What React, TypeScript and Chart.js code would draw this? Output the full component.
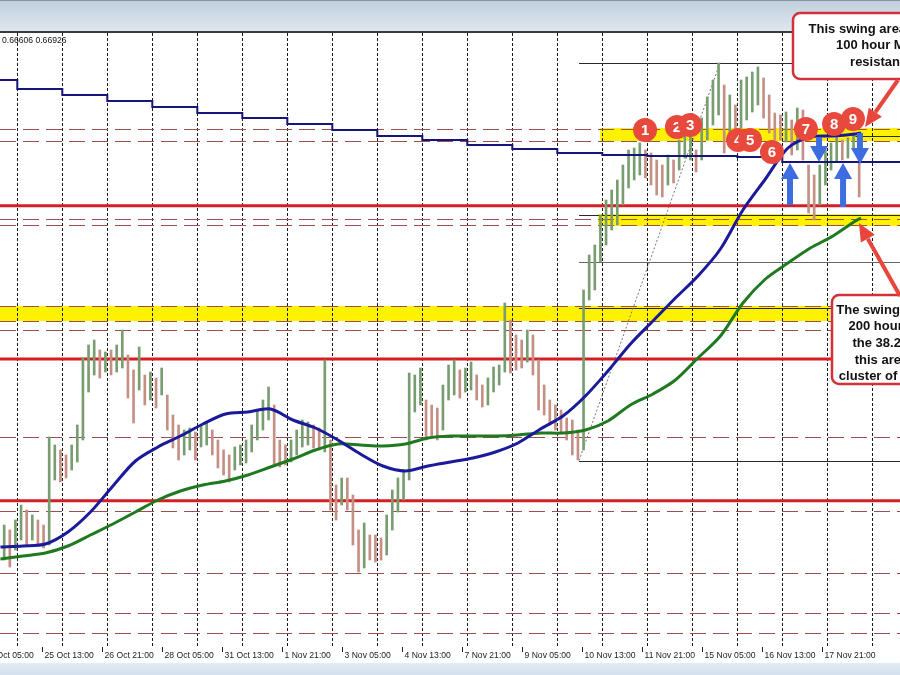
import React, { useEffect, useRef } from 'react';
import { Chart, registerables } from 'chart.js';
Chart.register(...registerables);

// ---- time axis (hour index: 0 = 24 Oct 05:00) ----
const xMinHour = 9.77;
const xMaxHour = 489.77;
const labelHours = [0, 32, 64, 96, 128, 160, 192, 224, 256, 288, 320, 352, 384, 416, 448];
const labelTexts = ['24 Oct 05:00', '25 Oct 13:00', '26 Oct 21:00', '28 Oct 05:00', '31 Oct 13:00', '1 Nov 21:00', '3 Nov 05:00', '4 Nov 13:00', '7 Nov 21:00', '9 Nov 05:00', '10 Nov 13:00', '11 Nov 21:00', '15 Nov 05:00', '16 Nov 13:00', '17 Nov 21:00'];
const dayStartHours = [19, 43, 67, 91, 115, 139, 163, 187, 211, 235, 259, 283, 307, 331, 355, 379, 403, 427, 451, 475];

// ---- price axis ----
const priceMin = 0.6216;
const priceMax = 0.6833;

// ---- price bars (3-hour bars, first at hour 12) ----
const barStartHour = 12;
const barStepHours = 3;
const barHigh = [
  0.6341, 0.6336, 0.6346, 0.6361, 0.6356, 0.6351, 0.6346, 0.6341, 0.6429, 0.6421,
  0.6416, 0.6411, 0.6421, 0.6441, 0.6508, 0.6521, 0.6526, 0.6516, 0.6514, 0.6516,
  0.6521, 0.6536, 0.6511, 0.6496, 0.6519, 0.6491, 0.6494, 0.6488, 0.6498, 0.6471,
  0.6451, 0.6441, 0.6436, 0.6438, 0.6434, 0.6441, 0.6443, 0.6436, 0.6426, 0.6416,
  0.6411, 0.6419, 0.6421, 0.6426, 0.6441, 0.6456, 0.6466, 0.6479, 0.6461, 0.6426,
  0.6421, 0.6426, 0.6436, 0.6446, 0.6444, 0.6441, 0.6438, 0.6506, 0.6426, 0.6381,
  0.6388, 0.6388, 0.6371, 0.6336, 0.6343, 0.6331, 0.6331, 0.6328, 0.6351, 0.6376,
  0.6388, 0.6396, 0.6493, 0.6491, 0.6498, 0.6466, 0.6461, 0.6458, 0.6481, 0.6501,
  0.6506, 0.6496, 0.6498, 0.6504, 0.6491, 0.6481, 0.6488, 0.6499, 0.6501, 0.6563,
  0.6546, 0.6531, 0.6526, 0.6536, 0.6531, 0.6506, 0.6481, 0.6466, 0.6461, 0.6456,
  0.6448, 0.6446, 0.6436, 0.6576, 0.6611, 0.6621, 0.6651, 0.6666, 0.6676, 0.6686,
  0.6701, 0.6716, 0.6718, 0.6723, 0.6716, 0.6713, 0.6706, 0.6701, 0.6711, 0.6706,
  0.6726, 0.6736, 0.6738, 0.6716, 0.6748, 0.6769, 0.6786, 0.6803, 0.6781, 0.6771,
  0.6761, 0.6786, 0.6789, 0.6794, 0.6799, 0.6788, 0.6771, 0.6753, 0.6751, 0.6754,
  0.6746, 0.6758, 0.6756, 0.6701, 0.6691, 0.6701, 0.6716, 0.6723, 0.6731, 0.6726,
  0.6728, 0.6733, 0.6726,
];
const barLow = [
  0.6306, 0.6299, 0.6316, 0.6326, 0.6321, 0.6326, 0.6321, 0.6318, 0.6321, 0.6386,
  0.6384, 0.6388, 0.6396, 0.6404, 0.6426, 0.6474, 0.6491, 0.6488, 0.6494, 0.6491,
  0.6494, 0.6498, 0.6468, 0.6443, 0.6476, 0.6461, 0.6466, 0.6458, 0.6471, 0.6436,
  0.6418, 0.6406, 0.6411, 0.6416, 0.6406, 0.6419, 0.6421, 0.6411, 0.6398, 0.6391,
  0.6384, 0.6396, 0.6401, 0.6403, 0.6414, 0.6426, 0.6436, 0.6446, 0.6401, 0.6399,
  0.6401, 0.6404, 0.6411, 0.6419, 0.6421, 0.6418, 0.6416, 0.6414, 0.6356, 0.6346,
  0.6361, 0.6356, 0.6321, 0.6294, 0.6298, 0.6306, 0.6304, 0.6306, 0.6311, 0.6336,
  0.6354, 0.6366, 0.6386, 0.6454, 0.6461, 0.6426, 0.6428, 0.6426, 0.6436, 0.6466,
  0.6471, 0.6468, 0.6474, 0.6476, 0.6466, 0.6459, 0.6461, 0.6474, 0.6481, 0.6494,
  0.6493, 0.6496, 0.6498, 0.6504, 0.6491, 0.6456, 0.6451, 0.6441, 0.6436, 0.6433,
  0.6426, 0.6411, 0.6406, 0.6416, 0.6566, 0.6576, 0.6604, 0.6621, 0.6636, 0.6641,
  0.6661, 0.6678, 0.6686, 0.6691, 0.6688, 0.6681, 0.6671, 0.6669, 0.6681, 0.6683,
  0.6696, 0.6708, 0.6706, 0.6694, 0.6706, 0.6726, 0.6741, 0.6751, 0.6713, 0.6726,
  0.6718, 0.6738, 0.6746, 0.6754, 0.6761, 0.6748, 0.6733, 0.6726, 0.6726, 0.6724,
  0.6711, 0.6716, 0.6706, 0.6653, 0.6646, 0.6661, 0.6681, 0.6696, 0.6704, 0.6706,
  0.6708, 0.6716, 0.6669,
];

// ---- moving averages ----
const maHours = [10, 22, 34, 46, 58, 70, 82, 94, 106, 118, 130, 142, 154, 166, 178, 190, 202, 214, 226, 238, 250, 262, 274, 286, 298, 310, 322, 334, 346, 358, 370, 382, 394, 406, 418, 430, 442, 454, 466, 469];
const ma100 = [0.6319, 0.6320, 0.6322, 0.6334, 0.6354, 0.6380, 0.6405, 0.6419, 0.6430, 0.6442, 0.6452, 0.6454, 0.6457, 0.6446, 0.6438, 0.6426, 0.6412, 0.6400, 0.6395, 0.6400, 0.6404, 0.6408, 0.6414, 0.6423, 0.6437, 0.6450, 0.6470, 0.6495, 0.6522, 0.6545, 0.6568, 0.6590, 0.6617, 0.6656, 0.6687, 0.6718, 0.6729, 0.6730, 0.6732, 0.6733];
const ma200 = [0.6307, 0.6310, 0.6313, 0.6320, 0.6331, 0.6342, 0.6354, 0.6366, 0.6375, 0.6381, 0.6385, 0.6391, 0.6399, 0.6407, 0.6416, 0.6422, 0.6421, 0.6420, 0.6422, 0.6428, 0.6430, 0.6430, 0.6430, 0.6431, 0.6433, 0.6433, 0.6436, 0.6445, 0.6461, 0.6472, 0.6486, 0.6508, 0.6530, 0.6563, 0.6587, 0.6603, 0.6618, 0.6630, 0.6645, 0.6648];
const dailyMaHours = [9, 19, 43, 67, 91, 115, 139, 163, 187, 211, 235, 259, 283, 307, 331, 355, 379, 403, 427, 451, 475, 490];
const dailyMa = [0.6786, 0.6777, 0.6771, 0.6765, 0.6759, 0.6753, 0.6748, 0.6742, 0.6736, 0.6730, 0.6726, 0.6721, 0.6717, 0.6713, 0.6711, 0.6710, 0.6710, 0.6709, 0.6704, 0.6704, 0.6704, 0.6704];

// ---- horizontal levels ----
const dashedLevels = [0.67375, 0.6725, 0.6647, 0.66415, 0.6560, 0.6545, 0.6536, 0.6429, 0.63553, 0.62935, 0.62527, 0.62333];
const redLevels = [0.66603, 0.6507, 0.63653];
const bandFromHour = [329.8, 9, 328.7];
const bandToHour = [490, 452.4, 490];
const bandHigh = [0.6738, 0.6560, 0.6652];
const bandLow = [0.6725, 0.6545, 0.6640];
const fibStartHour = 318.6;
const fibLevels = [0.68033, 0.66505, 0.6604, 0.6558, 0.64055];
const fibColors = ['#2a2a2a', '#2a2a2a', '#666666', '#2a2a2a', '#2a2a2a'];
const fibDiagHours = [318.6, 393.8];
const fibDiagPrices = [0.64055, 0.68033];
const extraLineHours = [466, 490];
const extraLinePrice = 0.6730;

// ---- annotations ----
const circleLabels = ['1', '2', '3', '4', '5', '6', '7', '8', '9'];
const circleHours = [353.8, 370.8, 377.8, 403.4, 409.8, 421.5, 439.6, 454.6, 464.7];
const circlePrices = [0.6736, 0.6739, 0.6741, 0.6726, 0.6726, 0.6714, 0.6737, 0.6742, 0.6747];
const arrowHours = [431.1, 459.4, 446.6, 468.4];
const arrowTail = [0.6661, 0.6659, 0.6729, 0.6733];
const arrowHead = [0.6703, 0.6703, 0.6704, 0.6702];
const topNoteLines = ['This swing area and the', '100 hour MA is', 'resistance'];
const bottomNoteLines = ['The swing low and', '200 hour MA &', 'the 38.2% are', 'this area is a', 'cluster of support'];

const upColor = '#789e70';
const downColor = '#c68f84';

function roundRectPath(ctx: CanvasRenderingContext2D, x: number, y: number, w: number, h: number, r: number) {
  ctx.beginPath();
  ctx.moveTo(x + r, y);
  ctx.lineTo(x + w - r, y);
  ctx.arcTo(x + w, y, x + w, y + r, r);
  ctx.lineTo(x + w, y + h - r);
  ctx.arcTo(x + w, y + h, x + w - r, y + h, r);
  ctx.lineTo(x + r, y + h);
  ctx.arcTo(x, y + h, x, y + h - r, r);
  ctx.lineTo(x, y + r);
  ctx.arcTo(x, y, x + r, y, r);
  ctx.closePath();
}

const overlay = {
  id: 'overlay',
  beforeDraw(chart: any) {
    const { ctx, width, height } = chart;
    const xs = chart.scales.x;
    ctx.save();
    ctx.fillStyle = '#ffffff';
    ctx.fillRect(0, 0, width, height);
    const g = ctx.createLinearGradient(0, 0, 0, 31);
    g.addColorStop(0, '#c0cedc');
    g.addColorStop(1, '#dfe7ef');
    ctx.fillStyle = g;
    ctx.fillRect(0, 0, width, 31);
    ctx.fillStyle = '#8794a2';
    ctx.fillRect(0, 0, width, 1);
    ctx.fillStyle = '#3a3a3a';
    ctx.fillRect(0, 31, width, 2);
    const gb = ctx.createLinearGradient(0, 663, 0, 675);
    gb.addColorStop(0, '#e4ecf5');
    gb.addColorStop(1, '#d3dfec');
    ctx.fillStyle = gb;
    ctx.fillRect(0, 663, width, 12);
    // x labels
    ctx.font = '8.6px "Liberation Sans", Arial, sans-serif';
    ctx.fillStyle = '#222';
    ctx.textBaseline = 'middle';
    ctx.textAlign = 'left';
    ctx.strokeStyle = '#222';
    ctx.lineWidth = 1;
    labelHours.forEach((h, k) => {
      const x = Math.round(xs.getPixelForValue(h)) + 0.5;
      ctx.beginPath();
      ctx.moveTo(x, 647);
      ctx.lineTo(x, 652);
      ctx.stroke();
      ctx.fillText(labelTexts[k], x + 2, 656);
    });
    ctx.restore();
  },
  beforeDatasetsDraw(chart: any) {
    const { ctx, chartArea } = chart;
    const xs = chart.scales.x;
    const ys = chart.scales.y;
    ctx.save();
    // yellow bands
    ctx.fillStyle = '#fff200';
    bandHigh.forEach((hi, k) => {
      const x0 = xs.getPixelForValue(bandFromHour[k]);
      const x1 = xs.getPixelForValue(bandToHour[k]);
      const y0 = ys.getPixelForValue(hi);
      const y1 = ys.getPixelForValue(bandLow[k]);
      ctx.fillRect(x0, y0, x1 - x0, y1 - y0);
    });
    // vertical day separators
    ctx.strokeStyle = '#1a1a1a';
    ctx.lineWidth = 1;
    ctx.setLineDash([3, 2]);
    dayStartHours.forEach((h) => {
      const x = Math.round(xs.getPixelForValue(h)) + 0.5;
      ctx.beginPath();
      ctx.moveTo(x, chartArea.top);
      ctx.lineTo(x, 647);
      ctx.stroke();
    });
    // dashed levels
    ctx.strokeStyle = '#9a5050';
    ctx.setLineDash([16, 7]);
    dashedLevels.forEach((p) => {
      const y = Math.round(ys.getPixelForValue(p)) + 0.5;
      ctx.beginPath();
      ctx.moveTo(chartArea.left, y);
      ctx.lineTo(chartArea.right, y);
      ctx.stroke();
    });
    ctx.setLineDash([]);
    // fib lines
    ctx.lineWidth = 1;
    fibLevels.forEach((p, k) => {
      const y = Math.round(ys.getPixelForValue(p)) + 0.5;
      ctx.strokeStyle = fibColors[k];
      ctx.beginPath();
      ctx.moveTo(xs.getPixelForValue(fibStartHour), y);
      ctx.lineTo(chartArea.right, y);
      ctx.stroke();
    });
    {
      const y = Math.round(ys.getPixelForValue(extraLinePrice)) + 0.5;
      ctx.strokeStyle = '#2a2a2a';
      ctx.beginPath();
      ctx.moveTo(xs.getPixelForValue(extraLineHours[0]), y);
      ctx.lineTo(xs.getPixelForValue(extraLineHours[1]), y);
      ctx.stroke();
    }
    ctx.strokeStyle = '#777';
    ctx.setLineDash([2, 2]);
    ctx.beginPath();
    ctx.moveTo(xs.getPixelForValue(fibDiagHours[0]), ys.getPixelForValue(fibDiagPrices[0]));
    ctx.lineTo(xs.getPixelForValue(fibDiagHours[1]), ys.getPixelForValue(fibDiagPrices[1]));
    ctx.stroke();
    ctx.setLineDash([]);
    // red levels
    ctx.strokeStyle = '#d41e24';
    ctx.lineWidth = 3;
    redLevels.forEach((p) => {
      const y = ys.getPixelForValue(p);
      ctx.beginPath();
      ctx.moveTo(chartArea.left, y);
      ctx.lineTo(chartArea.right, y);
      ctx.stroke();
    });
    ctx.restore();
  },
  afterDraw(chart: any) {
    const { ctx } = chart;
    const xs = chart.scales.x;
    const ys = chart.scales.y;
    const px = (h: number) => xs.getPixelForValue(h);
    const py = (p: number) => ys.getPixelForValue(p);
    ctx.save();
    // top-left info text
    ctx.font = '8.6px "Liberation Sans", Arial, sans-serif';
    ctx.fillStyle = '#111';
    ctx.textBaseline = 'middle';
    ctx.textAlign = 'left';
    ctx.fillText('0.66606 0.66926', 2, 41);

    // blue arrows
    ctx.fillStyle = '#3e6de2';
    arrowHours.forEach((h, k) => {
      const x = px(h);
      const yT = py(arrowTail[k]);
      const yH = py(arrowHead[k]);
      const dir = yH < yT ? -1 : 1;
      const headLen = 16;
      const yBase = yH - dir * headLen;
      ctx.beginPath();
      ctx.moveTo(x - 3, yT);
      ctx.lineTo(x - 3, yBase);
      ctx.lineTo(x - 9, yBase);
      ctx.lineTo(x, yH);
      ctx.lineTo(x + 9, yBase);
      ctx.lineTo(x + 3, yBase);
      ctx.lineTo(x + 3, yT);
      ctx.closePath();
      ctx.fill();
    });

    // numbered circles
    circleLabels.forEach((t, k) => {
      const x = px(circleHours[k]);
      const y = py(circlePrices[k]);
      ctx.beginPath();
      ctx.arc(x, y, 12, 0, Math.PI * 2);
      ctx.fillStyle = '#e8493d';
      ctx.fill();
      ctx.fillStyle = '#ffffff';
      ctx.font = 'bold 15px "Liberation Sans", Arial, sans-serif';
      ctx.textAlign = 'center';
      ctx.textBaseline = 'middle';
      ctx.fillText(t, x, y + 1);
    });

    // callout boxes
    const drawBox = (h0: number, h1: number, p0: number, p1: number, cx: number, firstP: number, lines: string[]) => {
      const x0 = px(h0), x1 = px(h1), y0 = py(p0), y1 = py(p1);
      roundRectPath(ctx, x0, y0, x1 - x0, y1 - y0, 7);
      ctx.fillStyle = '#ffffff';
      ctx.fill();
      ctx.strokeStyle = '#d2303a';
      ctx.lineWidth = 2.5;
      ctx.stroke();
      ctx.fillStyle = '#111111';
      ctx.font = 'bold 13px "Liberation Sans", Arial, sans-serif';
      ctx.textAlign = 'center';
      ctx.textBaseline = 'middle';
      const y = py(firstP);
      lines.forEach((ln, k) => ctx.fillText(ln, px(cx), y + k * 16.7));
    };
    drawBox(432.7, 524.4, 0.6853, 0.6787, 480.3, 0.6837, topNoteLines);
    drawBox(453.5, 520.0, 0.6571, 0.6482, 486.6, 0.6556, bottomNoteLines);

    // red pointer arrows
    const redArrow = (h0: number, p0: number, h1: number, p1: number) => {
      const xA = px(h0), yA = py(p0), xB = px(h1), yB = py(p1);
      const ang = Math.atan2(yB - yA, xB - xA);
      const hl = 18, hw = 8;
      const bx = xB - hl * Math.cos(ang), by = yB - hl * Math.sin(ang);
      ctx.strokeStyle = '#e8453c';
      ctx.lineWidth = 4;
      ctx.beginPath();
      ctx.moveTo(xA, yA);
      ctx.lineTo(bx, by);
      ctx.stroke();
      ctx.fillStyle = '#e8453c';
      ctx.beginPath();
      ctx.moveTo(xB, yB);
      ctx.lineTo(bx + hw * Math.sin(ang), by - hw * Math.cos(ang));
      ctx.lineTo(bx - hw * Math.sin(ang), by + hw * Math.cos(ang));
      ctx.closePath();
      ctx.fill();
    };
    redArrow(488.7, 0.6786, 471.1, 0.6739);
    redArrow(489.8, 0.6570, 467.9, 0.6643);
    ctx.restore();
  },
};

export default function App() {
  const ref = useRef<HTMLCanvasElement>(null);
  useEffect(() => {
    const barData = barHigh.map((h, k) => ({ x: barStartHour + barStepHours * k, y: [barLow[k], h] }));
    const barColors = barHigh.map((h, k) => {
      if (k === 0) return upColor;
      const mid = (h + barLow[k]) / 2;
      const prev = (barHigh[k - 1] + barLow[k - 1]) / 2;
      return mid >= prev ? upColor : downColor;
    });
    const chart = new Chart(ref.current as HTMLCanvasElement, {
      type: 'bar',
      data: {
        datasets: [
          {
            type: 'bar',
            label: 'Price',
            data: barData as any,
            backgroundColor: barColors,
            borderWidth: 0,
            barThickness: 2,
            grouped: false,
            order: 10,
          } as any,
          {
            type: 'line',
            label: 'Daily MA',
            data: dailyMaHours.map((h, k) => ({ x: h, y: dailyMa[k] })),
            borderColor: '#15157a',
            borderWidth: 2,
            pointRadius: 0,
            stepped: true,
            fill: false,
            order: 3,
          } as any,
          {
            type: 'line',
            label: '200 hour MA',
            data: maHours.map((h, k) => ({ x: h, y: ma200[k] })),
            borderColor: '#1f7a1f',
            borderWidth: 3,
            pointRadius: 0,
            tension: 0.3,
            fill: false,
            order: 2,
          } as any,
          {
            type: 'line',
            label: '100 hour MA',
            data: maHours.map((h, k) => ({ x: h, y: ma100[k] })),
            borderColor: '#1a1a9a',
            borderWidth: 3,
            pointRadius: 0,
            tension: 0.3,
            fill: false,
            order: 1,
          } as any,
        ],
      },
      options: {
        responsive: false,
        animation: false,
        devicePixelRatio: 1,
        events: [],
        layout: { padding: { top: 33, bottom: 25, left: 0, right: 0 } },
        scales: {
          x: { type: 'linear', min: xMinHour, max: xMaxHour, display: false, offset: false },
          y: { type: 'linear', min: priceMin, max: priceMax, display: false },
        },
        plugins: { legend: { display: false }, tooltip: { enabled: false } },
      } as any,
      plugins: [overlay],
    });
    return () => chart.destroy();
  }, []);
  return (
    <div style={{ position: 'fixed', left: 0, top: 0, width: 900, height: 675, background: '#fff' }}>
      <canvas ref={ref} width={900} height={675} style={{ display: 'block', width: 900, height: 675 }} />
    </div>
  );
}
